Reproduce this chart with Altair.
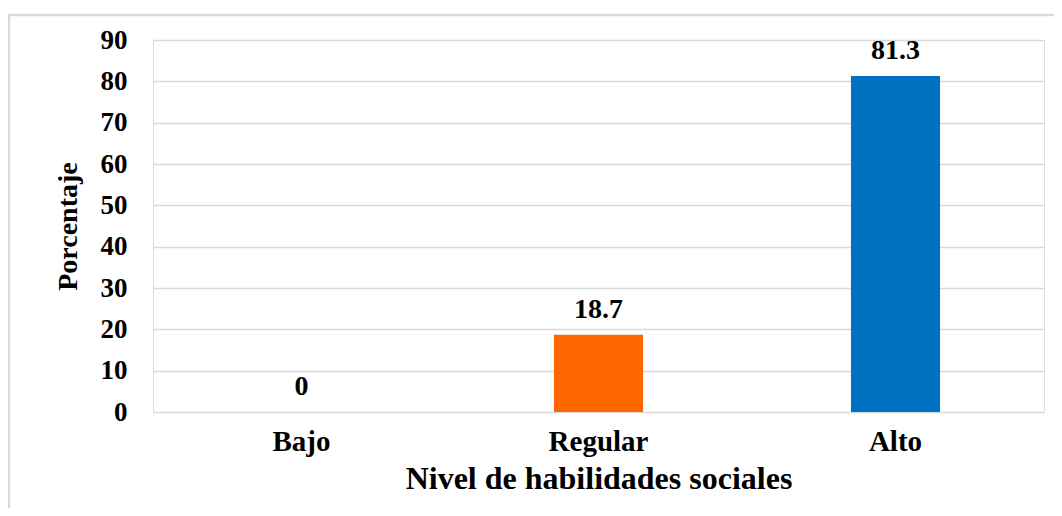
import altair as alt
import pandas as pd

categories = ["Bajo", "Regular", "Alto"]
values = [0, 18.7, 81.3]
labels = ["0", "18.7", "81.3"]
colors = ["#0070C0", "#FF6600", "#0070C0"]

df = pd.DataFrame({"cat": categories, "val": values, "lab": labels, "col": colors})

FONT = "Liberation Serif"

base = alt.Chart(df)

x_enc = alt.X(
    "cat:N",
    sort=categories,
    scale=alt.Scale(paddingInner=0.7, paddingOuter=0.35),
    axis=alt.Axis(
        title="Nivel de habilidades sociales",
        labelAngle=0,
        labelFont=FONT,
        labelFontSize=29,
        labelFontWeight="bold",
        labelColor="black",
        labelPadding=15,
        ticks=False,
        domain=False,
        titleFont=FONT,
        titleFontSize=32,
        titleFontWeight="bold",
        titleColor="black",
        titleBaseline="middle",
        titleY=66,
    ),
)

y_enc = alt.Y(
    "val:Q",
    scale=alt.Scale(domain=[0, 90]),
    axis=alt.Axis(
        title="Porcentaje",
        values=[0, 10, 20, 30, 40, 50, 60, 70, 80, 90],
        labelFont=FONT,
        labelFontSize=27,
        labelFontWeight="bold",
        labelColor="black",
        labelPadding=26,
        ticks=False,
        domain=False,
        grid=True,
        gridColor="#D9D9D9",
        gridWidth=1.5,
        titleFont=FONT,
        titleFontSize=28,
        titleFontWeight="bold",
        titleColor="black",
        titleAngle=-90,
        titleAlign="center",
        titleBaseline="middle",
        titleX=-85,
        titleY=186,
    ),
)

bars = base.mark_bar().encode(
    x=x_enc,
    y=y_enc,
    color=alt.Color("col:N", scale=None),
)

text = base.mark_text(
    font=FONT, fontSize=28, fontWeight="bold", color="black", baseline="bottom", dy=-11
).encode(
    x=alt.X("cat:N", sort=categories),
    y=alt.Y("val:Q"),
    text="lab:N",
)

frame = alt.Chart(pd.DataFrame({"a": [0]})).mark_rect(
    fill=None, stroke="#D9D9D9", strokeWidth=2.5
).encode(
    x=alt.value(-144), x2=alt.value(907), y=alt.value(-25), y2=alt.value(480)
)

chart = alt.layer(frame, bars, text).properties(
    width=891,
    height=372,
    autosize=alt.AutoSizeParams(type="none"),
    padding={"left": 145, "top": 32, "right": 10, "bottom": 96},
).configure_view(stroke=None).configure(background="white")

chart.save("out.html", embed_options={"renderer": "svg", "actions": False})
